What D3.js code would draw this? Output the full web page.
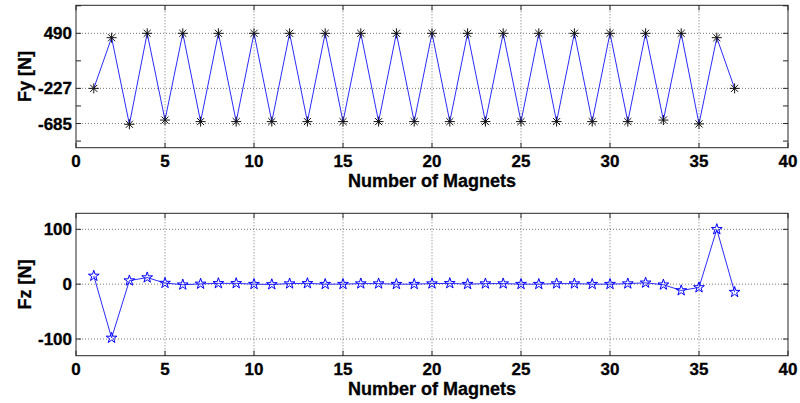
<!DOCTYPE html>
<html>
<head>
<meta charset="utf-8">
<script src="https://cdn.jsdelivr.net/npm/d3@7"></script>
<style>
  body { margin: 0; background: #fff; }
  svg { display: block; font-family: "Liberation Sans", Arial, sans-serif; }
  .tick-label { font-size: 17px; font-weight: bold; fill: #000; stroke: #000; stroke-width: 0.3; }
  .axis-title { font-size: 18px; font-weight: bold; fill: #000; stroke: #000; stroke-width: 0.3; }
</style>
</head>
<body>
<svg id="chart" width="800" height="403"></svg>
<script>
// data
var magnets = [1,2,3,4,5,6,7,8,9,10,11,12,13,14,15,16,17,18,19,20,21,22,23,24,25,26,27,28,29,30,31,32,33,34,35,36,37];
var fy = [-227,433,-695,490,-640,490,-660,490,-660,490,-660,490,-660,490,-660,490,-660,490,-660,490,
          -660,490,-660,490,-660,490,-660,490,-660,490,-660,490,-640,490,-690,433,-227];
var fz = [15,-98,6.5,12,2,-1,0.5,1.5,1.5,0,-0.5,1,1.5,0,0,1,1,0,0,1,
          1.5,0,1,1,0,0,1,1,0,0,1,2.5,-1,-11.5,-6,100,-14.5];

var xTicks = [0,5,10,15,20,25,30,35,40];
var fyTicks = [-685,-227,490];
var fyMinorTicks = [-914,-456,131.5,848.5];
var fzTicks = [-100,0,100];

var svg = d3.select("#chart");
var left = 76, right = 788;
var x = d3.scaleLinear().domain([0,40]).range([left, right]);

function asterisk(r) {
  var d = r * Math.SQRT1_2;
  return "M" + (-r) + ",0L" + r + ",0M0," + (-r) + "L0," + r +
         "M" + (-d) + "," + (-d) + "L" + d + "," + d +
         "M" + (-d) + "," + d + "L" + d + "," + (-d);
}

function panel(top, bottom, yDomain, values, ticks, minor, title, marker) {
  var y = d3.scaleLinear().domain(yDomain).range([bottom, top]);
  var g = svg.append("g");

  // grid
  g.selectAll(".vgrid").data(xTicks.slice(1, -1)).enter().append("line")
    .attr("x1", d => x(d)).attr("x2", d => x(d))
    .attr("y1", top).attr("y2", bottom)
    .attr("stroke", "#555").attr("stroke-width", 0.8).attr("stroke-dasharray", "1,2");
  g.selectAll(".hgrid").data(ticks).enter().append("line")
    .attr("x1", left).attr("x2", right)
    .attr("y1", d => y(d)).attr("y2", d => y(d))
    .attr("stroke", "#555").attr("stroke-width", 0.8).attr("stroke-dasharray", "1,2");

  // box
  g.append("rect").attr("x", left).attr("y", top)
    .attr("width", right - left).attr("height", bottom - top)
    .attr("fill", "none").attr("stroke", "#262626").attr("stroke-width", 1);

  // tick marks (inward, both sides)
  var tl = 5;
  xTicks.forEach(function (t) {
    g.append("line").attr("x1", x(t)).attr("x2", x(t)).attr("y1", bottom).attr("y2", bottom - tl).attr("stroke", "#262626");
    g.append("line").attr("x1", x(t)).attr("x2", x(t)).attr("y1", top).attr("y2", top + tl).attr("stroke", "#262626");
  });
  ticks.concat(minor).forEach(function (t) {
    g.append("line").attr("x1", left).attr("x2", left + tl).attr("y1", y(t)).attr("y2", y(t)).attr("stroke", "#262626");
    g.append("line").attr("x1", right).attr("x2", right - tl).attr("y1", y(t)).attr("y2", y(t)).attr("stroke", "#262626");
  });

  // tick labels
  g.selectAll(".xl").data(xTicks).enter().append("text")
    .attr("class", "tick-label").attr("text-anchor", "middle")
    .attr("x", d => x(d)).attr("y", bottom + 19).text(d => d);
  g.selectAll(".yl").data(ticks).enter().append("text")
    .attr("class", "tick-label").attr("text-anchor", "end")
    .attr("x", left - 4).attr("y", d => y(d) + 6).text(d => d);

  // titles
  g.append("text").attr("class", "axis-title").attr("text-anchor", "middle")
    .attr("x", (left + right) / 2).attr("y", bottom + 39).text("Number of Magnets");
  g.append("text").attr("class", "axis-title").attr("text-anchor", "middle")
    .attr("transform", "translate(31," + ((top + bottom) / 2) + ") rotate(-90)")
    .text(title);

  // line
  var line = d3.line().x((d, i) => x(magnets[i])).y(d => y(d));
  g.append("path").datum(values).attr("d", line)
    .attr("fill", "none").attr("stroke", "#2b2bff").attr("stroke-width", 1);

  // markers
  if (marker === "star") {
    g.selectAll(".m").data(values).enter().append("path")
      .attr("transform", (d, i) => "translate(" + x(magnets[i]) + "," + y(d) + ")")
      .attr("d", d3.symbol().type(d3.symbolStar).size(36))
      .attr("fill", "none").attr("stroke", "#0000ff").attr("stroke-width", 1);
  } else {
    g.selectAll(".m").data(values).enter().append("path")
      .attr("transform", (d, i) => "translate(" + x(magnets[i]) + "," + y(d) + ")")
      .attr("d", asterisk(5))
      .attr("fill", "none").attr("stroke", "#111").attr("stroke-width", 1);
  }
}

panel(5.3, 147.7, [-1000, 855], fy, fyTicks, fyMinorTicks, "Fy [N]", "asterisk");
panel(213.3, 355.7, [-130.4, 129.2], fz, fzTicks, [], "Fz [N]", "star");
</script>
</body>
</html>
